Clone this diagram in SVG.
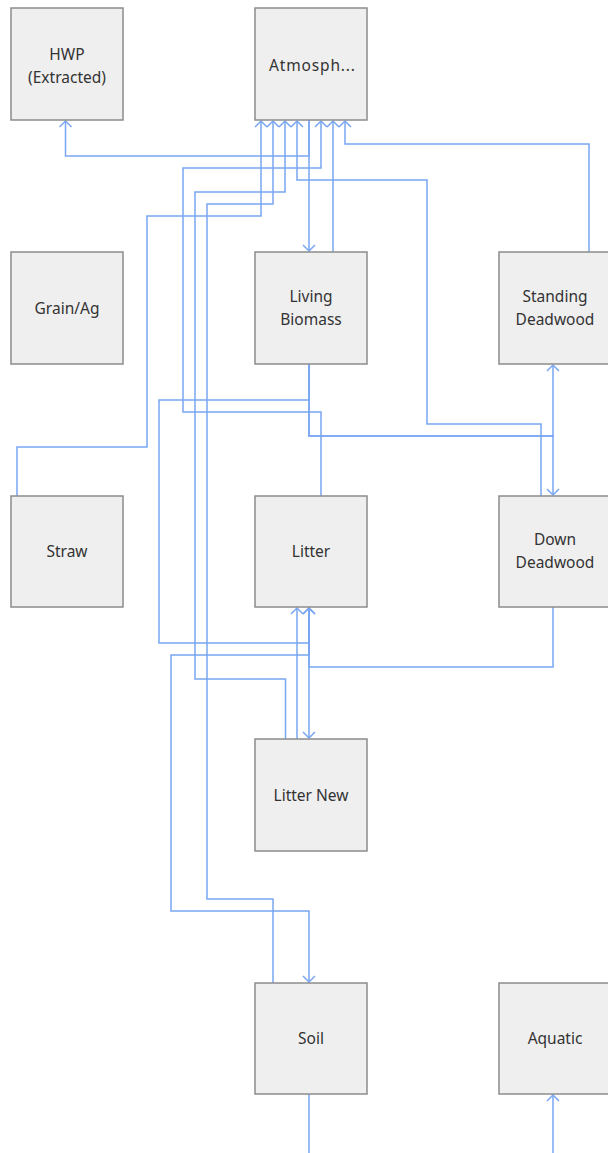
<svg xmlns="http://www.w3.org/2000/svg" width="608" height="1153" viewBox="0 0 608 1153">
<style>
.box{fill:#efefef;stroke:#8c8c8c;stroke-width:1.5}
.lbl{font-family:"Noto Sans","Open Sans","DejaVu Sans",sans-serif;font-size:15.5px;fill:#333;text-anchor:middle}
.c{fill:none;stroke:#79a6f2;stroke-width:1.5}
.a{marker-end:url(#arr)}
</style>
<defs>
<marker id="arr" markerUnits="userSpaceOnUse" markerWidth="14" markerHeight="14" viewBox="-1 -1 14 14" refX="6" refY="6" orient="auto">
<path d="M0,0 L6,6 L0,12" fill="none" stroke="#79a6f2" stroke-width="1.5"/>
</marker>
</defs>
<rect width="608" height="1153" fill="#ffffff"/>
<g id="connectors">
<path class="c a" d="M309,120 V156 H65.5 V121"/>
<path class="c a" d="M309,120 V251"/>
<path class="c a" d="M333,252 V121"/>
<path class="c a" d="M589,252 V144 H345 V121"/>
<path class="c a" d="M541,496 V424 H427 V180 H297 V121"/>
<path class="c a" d="M17,496 V447 H147 V216 H261 V121"/>
<path class="c a" d="M321,496 V412 H183 V168 H321 V121"/>
<path class="c a" d="M285.5,739 V679 H195 V192 H285 V121"/>
<path class="c a" d="M273,983 V899 H207 V204 H273 V121"/>
<path class="c a" d="M309,364 V436 H553 V365"/>
<path class="c a" d="M309,364 V436 H553 V495"/>
<path class="c a" d="M309,364 V400 H159 V643 H309 V608"/>
<path class="c a" d="M553,607 V667 H309 V608"/>
<path class="c a" d="M309,607 V738"/>
<path class="c a" d="M297,739 V608"/>
<path class="c a" d="M309,607 V655 H171 V911 H309 V982"/>
<path class="c" d="M309,1094 V1153"/>
<path class="c a" d="M553,1153 V1095"/>
</g>
<g id="hwp"><rect class="box" x="11" y="8" width="112" height="112"/><text class="lbl" x="67" y="60">HWP</text><text class="lbl" x="67" y="83">(Extracted)</text></g>
<g id="atmosphere"><rect class="box" x="255" y="8" width="112" height="112"/><text class="lbl" x="312" y="71" textLength="86" lengthAdjust="spacing">Atmosph...</text></g>
<g id="grain"><rect class="box" x="11" y="252" width="112" height="112"/><text class="lbl" x="67" y="314">Grain/Ag</text></g>
<g id="living-biomass"><rect class="box" x="255" y="252" width="112" height="112"/><text class="lbl" x="311" y="302">Living</text><text class="lbl" x="311" y="325">Biomass</text></g>
<g id="standing-deadwood"><rect class="box" x="499" y="252" width="112" height="112"/><text class="lbl" x="555" y="302">Standing</text><text class="lbl" x="555" y="325">Deadwood</text></g>
<g id="straw"><rect class="box" x="11" y="496" width="112" height="111"/><text class="lbl" x="67" y="557">Straw</text></g>
<g id="litter"><rect class="box" x="255" y="496" width="112" height="111"/><text class="lbl" x="311" y="557">Litter</text></g>
<g id="down-deadwood"><rect class="box" x="499" y="496" width="112" height="111"/><text class="lbl" x="555" y="545">Down</text><text class="lbl" x="555" y="568">Deadwood</text></g>
<g id="litter-new"><rect class="box" x="255" y="739" width="112" height="112"/><text class="lbl" x="311" y="801">Litter New</text></g>
<g id="soil"><rect class="box" x="255" y="983" width="112" height="111"/><text class="lbl" x="311" y="1044">Soil</text></g>
<g id="aquatic"><rect class="box" x="499" y="983" width="112" height="111"/><text class="lbl" x="555" y="1044">Aquatic</text></g>
</svg>
